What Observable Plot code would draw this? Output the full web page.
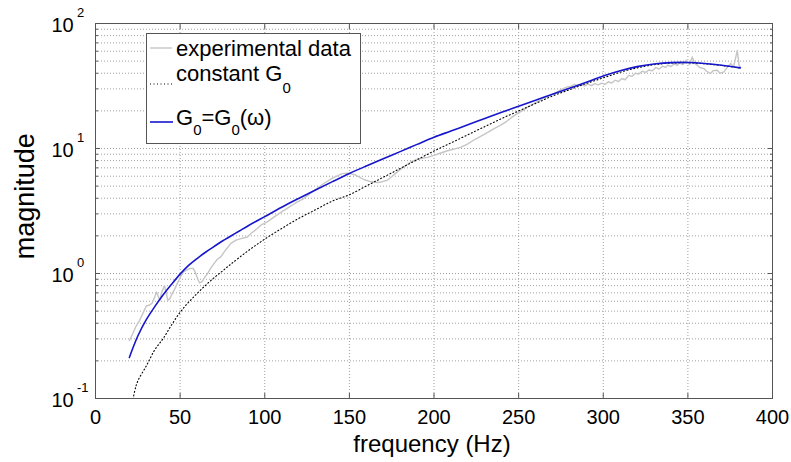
<!DOCTYPE html>
<html>
<head>
<meta charset="utf-8">
<script src="https://cdn.jsdelivr.net/npm/d3@7"></script>
<script src="https://cdn.jsdelivr.net/npm/@observablehq/plot@0.6"></script>
<style>
  html, body { margin: 0; padding: 0; background: #fff; }
  #chart svg { display: block; }
</style>
</head>
<body>
<div id="chart"></div>
<script>
// ---- data ----
const freqExp = [20,22,24,26,28,30,32,33.5,35,36,37,38,39,40.8,42,42.7,44,45.3,47,48.3,50,52,54,56,57.7,59,60.5,61.5,63,64,66,68,70,72,74,77,80,83,86,89.7,92,95.6,98,101.5,105,109,113,118,123,128,134.9,140,145.8,149,152.7,156,158.6,162,166.5,169,172.4,175,178.3,182,186.2,190,196,200,204,208,212,215.7,220,224,227.5,231,235,239.4,243,246,249.2,252,255,259,262,265,268.9,272,275,278.8,281,283,285,287,289,291,293,295,297,299,301,303,305,307,309,311,313,315,317,319,321,323,325,327,329,331,333,335,337,338,340,342,343.8,345,347,349,351,352.6,354,355.6,357,359.5,361,363.4,365,367.4,369,371.3,373,375.3,377,379.2,380.2,381];
const magExp = [0.29,0.33,0.38,0.42,0.48,0.55,0.56,0.58,0.65,0.71,0.66,0.61,0.70,0.80,0.68,0.61,0.63,0.69,0.76,0.83,0.93,1.03,1.07,1.10,1.10,1.02,0.90,0.84,0.86,0.91,0.99,1.10,1.20,1.30,1.36,1.55,1.74,1.85,1.90,1.96,2.10,2.29,2.45,2.59,2.80,3.05,3.30,3.65,3.98,4.50,5.25,5.80,6.30,6.35,6.20,5.90,5.65,5.45,5.35,5.40,5.57,5.95,6.50,7.10,7.80,8.20,8.50,8.80,9.20,9.60,9.90,10.2,10.9,11.8,12.5,13.3,14.3,15.4,16.5,17.8,19.0,20.0,21.3,22.9,24.0,25.3,26.7,28.0,29.6,31.1,31.5,32.6,31.8,32.4,31.6,32.8,31.9,33.0,32.3,33.3,32.6,34.2,33.4,35.2,34.3,36.3,35.5,38.5,37.8,40.0,39.4,41.5,40.6,42.5,41.8,44.5,43.2,45.5,44.6,46.5,45.3,47.5,46.2,48.5,46.8,50.8,47.0,54.0,48.0,46.4,44.5,43.6,41.5,39.8,42.0,42.3,40.0,41.0,44.0,48.0,45.0,61.0,46.4,45.0];

const freqConst = [20,23,25,30,35,40,45,50,55,60,65,70,75,80,90,100,110,120,130,140,150,160,170,180,190,200,210,220,230,240,250,260,270,280,290,300,310,320,330,340,350,360,370,381];
const magConst = [0.0631,0.1122,0.138,0.182,0.245,0.302,0.389,0.490,0.589,0.692,0.804,0.923,1.047,1.189,1.514,1.884,2.291,2.754,3.236,3.802,4.266,5.012,5.888,6.918,8.128,9.550,11.09,12.88,14.96,17.38,19.95,22.91,26.30,29.51,33.11,36.73,40.74,44.16,46.77,48.19,48.53,47.64,46.13,43.95];

const freqVar = [20,22,25,30,35,40,45,50,55,60,65,70,75,80,85,90,95,100,110,120,130,140,150,160,170,180,190,200,210,220,230,240,250,260,270,280,290,300,310,320,330,340,350,360,370,381];
const magVar = [0.213,0.251,0.316,0.427,0.543,0.676,0.822,0.989,1.161,1.318,1.479,1.641,1.820,1.995,2.188,2.399,2.618,2.851,3.388,3.981,4.656,5.433,6.310,7.244,8.279,9.441,10.79,12.30,13.80,15.49,17.38,19.50,21.78,24.32,27.16,30.34,33.88,38.02,41.88,45.19,47.42,48.64,48.75,47.86,46.34,44.16];

const xTicks = [0,50,100,150,200,250,300,350,400];
const xGridTicks = [50,100,150,200,250,300,350];
const yDecades = [0.1,1,10,100];
const yTickBase = ["10","10","10","10"];
const yTickExp = ["-1","0","1","2"];
const yMinor = [0.2,0.3,0.4,0.5,0.6,0.7,0.8,0.9,2,3,4,5,6,7,8,9,20,30,40,50,60,70,80,90];
const yGridTicks = [1,10].concat(yMinor);

const seriesNames = ["experimental data", "constant G", "G"];
const xLabel = "frequency (Hz)";
const yLabel = "magnitude";

const FONT = "'Liberation Sans', Arial, Helvetica, sans-serif";
const blank = () => "";

const chart = Plot.plot({
  width: 791,
  height: 462,
  marginLeft: 95,
  marginRight: 19,
  marginTop: 23,
  marginBottom: 64,
  style: { fontFamily: FONT, fontSize: "20px", background: "#fff", color: "#000" },
  x: { domain: [0, 400] },
  y: { type: "log", domain: [0.1, 100] },
  marks: [
    Plot.gridX(xGridTicks, { stroke: "#a0a0a0", strokeOpacity: 1, strokeDasharray: "1,2" }),
    Plot.gridY(yGridTicks, { stroke: "#a0a0a0", strokeOpacity: 1, strokeDasharray: "1,2" }),
    Plot.line(magExp, { x: freqExp, y: magExp, stroke: "#c6c6c6", strokeWidth: 1.4, clip: true }),
    Plot.line(magConst, { x: freqConst, y: magConst, curve: "catmull-rom", stroke: "#000", strokeWidth: 1.1, strokeDasharray: "1,2.5", clip: true }),
    Plot.line(magVar, { x: freqVar, y: magVar, curve: "catmull-rom", stroke: "#1616cc", strokeWidth: 1.6, clip: true }),
    // inward ticks
    Plot.axisX({ anchor: "bottom", ticks: xTicks, tickSize: -5, tickPadding: 16, stroke: "#555", label: null, fontSize: 20, tickFormat: d => String(d) }),
    Plot.axisX({ anchor: "top", ticks: xTicks, tickSize: -5, stroke: "#555", label: null, tickFormat: blank }),
    Plot.axisY({ anchor: "left", ticks: yDecades, tickSize: -5, stroke: "#555", label: null, tickFormat: blank }),
    Plot.axisY({ anchor: "right", ticks: yDecades, tickSize: -5, stroke: "#555", label: null, tickFormat: blank }),
    Plot.axisY({ anchor: "left", ticks: yMinor, tickSize: -3, stroke: "#555", label: null, tickFormat: blank }),
    Plot.axisY({ anchor: "right", ticks: yMinor, tickSize: -3, stroke: "#555", label: null, tickFormat: blank }),
    // y tick labels 10^n
    Plot.text(yDecades, { y: d => d, text: (d, i) => yTickBase[i], frameAnchor: "left", textAnchor: "start", dx: -44, dy: 2, fontSize: 20, fill: "#000" }),
    Plot.text(yDecades, { y: d => d, text: (d, i) => yTickExp[i], frameAnchor: "left", textAnchor: "start", dx: -18.5, dy: -11, fontSize: 13, fill: "#000" }),
    // axis labels
    Plot.text([xLabel], { text: d => d, frameAnchor: "bottom", textAnchor: "middle", lineAnchor: "bottom", dx: -2, dy: 53, fontSize: 24, fill: "#000" }),
    Plot.text([yLabel], { text: d => d, frameAnchor: "left", textAnchor: "middle", lineAnchor: "middle", rotate: -90, dx: -70.5, dy: -14.7, fontSize: 27, fill: "#000" }),
    Plot.frame({ stroke: "#555" })
  ]
});

document.getElementById("chart").appendChild(chart);

// ---- legend (MATLAB-style box) ----
const svg = d3.select(chart);
const lg = svg.append("g").attr("font-family", FONT).attr("font-size", 22)
  .attr("fill", "#000").attr("text-anchor", "start");
lg.append("rect").attr("x", 146.5).attr("y", 33.5).attr("width", 214).attr("height", 110)
  .attr("fill", "#fff").attr("stroke", "#555");
lg.append("line").attr("x1", 150).attr("x2", 172).attr("y1", 48).attr("y2", 48)
  .attr("stroke", "#c6c6c6").attr("stroke-width", 1.4);
lg.append("line").attr("x1", 150).attr("x2", 172).attr("y1", 84).attr("y2", 84)
  .attr("stroke", "#000").attr("stroke-width", 1.1).attr("stroke-dasharray", "1,2.5");
lg.append("line").attr("x1", 150).attr("x2", 173).attr("y1", 122).attr("y2", 122)
  .attr("stroke", "#1616cc").attr("stroke-width", 1.6);

lg.append("text").attr("x", 176).attr("y", 56.3).text(seriesNames[0]);
const t2 = lg.append("text").attr("x", 176).attr("y", 81.3);
t2.append("tspan").text(seriesNames[1]);
t2.append("tspan").attr("dy", 11.7).attr("font-size", 15).text("0");
const t3 = lg.append("text").attr("x", 176).attr("y", 124.7);
t3.append("tspan").text(seriesNames[2]);
t3.append("tspan").attr("dy", 10).attr("font-size", 15).text("0");
t3.append("tspan").attr("dy", -10).text("=G");
t3.append("tspan").attr("dy", 10).attr("font-size", 15).text("0");
t3.append("tspan").attr("dy", -10).text("(ω)");
</script>
</body>
</html>
